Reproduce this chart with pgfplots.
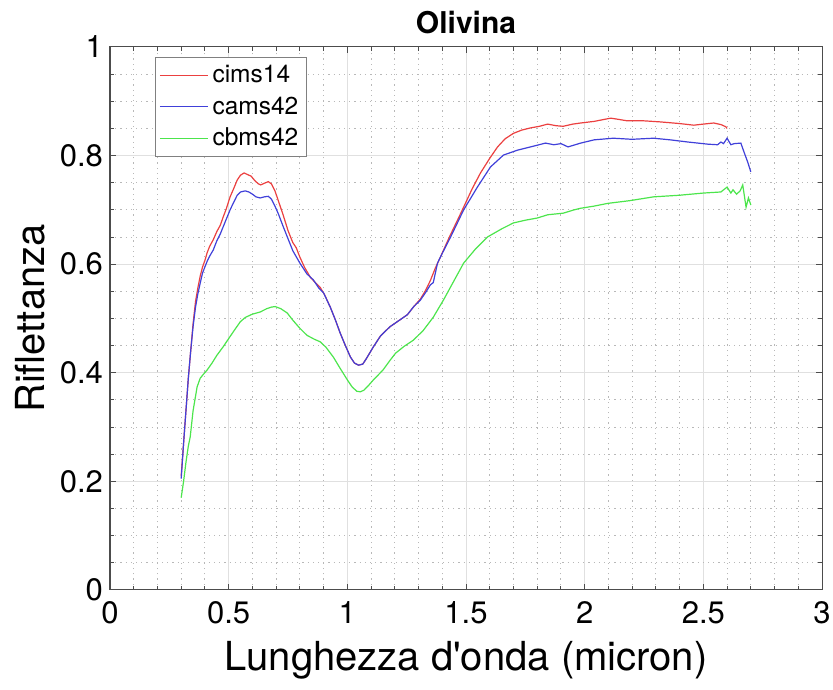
\documentclass[border=0pt]{standalone}
\usepackage{fontspec}
\setmainfont{TeX Gyre Heros}
\usepackage{pgfplots}
\pgfplotsset{compat=1.18}

\definecolor{cred}{rgb}{0.92,0.25,0.25}
\definecolor{cblue}{rgb}{0.25,0.25,0.85}
\definecolor{cgreen}{rgb}{0.30,0.90,0.30}

\begin{document}
\begin{tikzpicture}
\begin{axis}[
	scale only axis,
	width=356pt, height=271.5pt,
	xmin=0, xmax=3, ymin=0, ymax=1,
	xtick={0,0.5,...,3}, ytick={0,0.2,...,1},
	minor xtick={0,0.1,...,3}, minor ytick={0,0.05,...,1},
	grid=both,
	major grid style={black!12, line width=0.5pt},
	minor grid style={black!28, dash pattern=on 0.6pt off 2pt, line width=0.5pt},
	axis line style={black!70, line width=0.5pt},
	tick style={black!70, line width=0.5pt},
	major tick length=3pt, minor tick length=1.8pt,
	/pgf/number format/assume math mode=true,
	xticklabel style={/pgf/number format/fixed},
	yticklabel style={/pgf/number format/fixed, /pgf/number format/precision=1},
	tick label style={font=\fontsize{15.5}{18}\selectfont},
	xticklabel style={yshift=-2pt},
	xlabel={Lunghezza d\textquotesingle onda (micron)},
	ylabel={Riflettanza},
	label style={font=\fontsize{20}{24}\selectfont},
	xlabel style={at={(axis description cs:0.5,-0.13)}, anchor=center},
	ylabel style={at={(axis description cs:-0.112,0.5)}, anchor=center},
	title={\textbf{Olivina}},
	title style={font=\fontsize{15}{18}\selectfont, at={(axis description cs:0.5,1.046)}, anchor=center, yshift=-6pt},
	legend style={at={(axis description cs:0.063,0.982)}, anchor=north west,
		font=\fontsize{12.25}{14}\selectfont, draw=black!50, line width=0.5pt,
		inner sep=2pt, row sep=1.5pt},
	legend cell align=left,
	legend image code/.code={\draw[#1] (0pt,0pt) -- (24pt,0pt);},
	every axis plot/.append style={line width=0.6pt},
]
\addplot[cred] coordinates {
(0.300,0.210) (0.310,0.270) (0.320,0.330) (0.330,0.390) (0.340,0.440) (0.350,0.490)
(0.360,0.530) (0.370,0.556) (0.380,0.578) (0.390,0.595) (0.400,0.607) (0.410,0.622)
(0.420,0.633) (0.435,0.645) (0.450,0.660) (0.465,0.672) (0.477,0.687) (0.490,0.702)
(0.506,0.724) (0.520,0.738) (0.536,0.755) (0.550,0.764) (0.565,0.768) (0.580,0.765)
(0.595,0.762) (0.610,0.754) (0.625,0.748) (0.635,0.746) (0.650,0.749) (0.667,0.752)
(0.680,0.748) (0.695,0.735) (0.710,0.716) (0.730,0.690) (0.750,0.662) (0.770,0.640)
(0.785,0.630) (0.800,0.613) (0.820,0.594) (0.844,0.576) (0.865,0.566) (0.886,0.557)
(0.905,0.543) (0.928,0.521) (0.950,0.497) (0.970,0.473) (0.990,0.452) (1.013,0.429)
(1.030,0.418) (1.047,0.414) (1.065,0.416) (1.080,0.426) (1.110,0.448) (1.140,0.468)
(1.180,0.485) (1.220,0.497) (1.253,0.507) (1.280,0.522) (1.308,0.536) (1.330,0.552)
(1.350,0.570) (1.370,0.592) (1.392,0.613) (1.430,0.650) (1.464,0.681) (1.490,0.705)
(1.525,0.738) (1.561,0.768) (1.600,0.795) (1.633,0.816) (1.665,0.831) (1.700,0.841)
(1.735,0.847) (1.772,0.851) (1.810,0.854) (1.844,0.858) (1.880,0.855) (1.910,0.854)
(1.950,0.858) (1.983,0.860) (2.040,0.863) (2.110,0.869) (2.180,0.864) (2.250,0.864)
(2.320,0.862) (2.400,0.859) (2.460,0.856) (2.500,0.858) (2.544,0.860) (2.575,0.857)
(2.595,0.853) (2.600,0.850)
};
\addplot[cblue] coordinates {
(0.300,0.205) (0.310,0.270) (0.320,0.330) (0.330,0.390) (0.340,0.440) (0.350,0.485)
(0.360,0.520) (0.370,0.545) (0.380,0.565) (0.390,0.584) (0.400,0.595) (0.410,0.606)
(0.420,0.615) (0.435,0.626) (0.450,0.643) (0.465,0.656) (0.477,0.669) (0.490,0.683)
(0.506,0.700) (0.520,0.713) (0.536,0.727) (0.550,0.733) (0.570,0.735) (0.585,0.733)
(0.600,0.729) (0.615,0.724) (0.633,0.722) (0.650,0.724) (0.667,0.725) (0.680,0.720)
(0.695,0.707) (0.710,0.692) (0.730,0.669) (0.750,0.647) (0.770,0.625) (0.800,0.602)
(0.830,0.582) (0.857,0.571) (0.880,0.556) (0.900,0.547) (0.928,0.521) (0.950,0.497)
(0.970,0.473) (0.990,0.452) (1.013,0.429) (1.030,0.418) (1.047,0.414) (1.065,0.416)
(1.080,0.426) (1.110,0.448) (1.140,0.468) (1.180,0.485) (1.220,0.497) (1.253,0.507)
(1.280,0.522) (1.308,0.534) (1.330,0.548) (1.350,0.562) (1.362,0.566) (1.380,0.602)
(1.400,0.620) (1.435,0.650) (1.490,0.700) (1.548,0.742) (1.603,0.779) (1.658,0.801)
(1.717,0.810) (1.772,0.816) (1.835,0.823) (1.870,0.820) (1.900,0.822) (1.930,0.816)
(1.983,0.823) (2.040,0.829) (2.120,0.832) (2.200,0.830) (2.290,0.832) (2.360,0.829)
(2.435,0.825) (2.520,0.821) (2.560,0.820) (2.574,0.825) (2.585,0.822) (2.600,0.832)
(2.616,0.820) (2.630,0.822) (2.658,0.823) (2.671,0.807) (2.687,0.788) (2.700,0.770)
};
\addplot[cgreen] coordinates {
(0.300,0.170) (0.310,0.200) (0.320,0.235) (0.330,0.265) (0.338,0.282) (0.350,0.330)
(0.367,0.374) (0.380,0.390) (0.395,0.398) (0.409,0.405) (0.430,0.418) (0.450,0.432)
(0.477,0.448) (0.500,0.463) (0.525,0.479) (0.549,0.494) (0.570,0.502) (0.600,0.508)
(0.633,0.512) (0.660,0.518) (0.680,0.521) (0.696,0.522) (0.720,0.518) (0.747,0.510)
(0.770,0.497) (0.800,0.482) (0.830,0.469) (0.860,0.462) (0.886,0.457) (0.910,0.447)
(0.941,0.429) (0.970,0.408) (1.000,0.387) (1.020,0.374) (1.040,0.366) (1.055,0.365)
(1.070,0.368) (1.090,0.377) (1.110,0.387) (1.150,0.405) (1.180,0.423) (1.203,0.436)
(1.240,0.449) (1.278,0.460) (1.320,0.478) (1.363,0.503) (1.405,0.534) (1.435,0.558)
(1.490,0.602) (1.540,0.628) (1.590,0.650) (1.650,0.665) (1.700,0.676) (1.750,0.681)
(1.800,0.685) (1.844,0.691) (1.910,0.694) (1.955,0.700) (1.983,0.703) (2.040,0.707)
(2.097,0.712) (2.190,0.717) (2.290,0.724) (2.400,0.727) (2.500,0.731) (2.574,0.733)
(2.600,0.742) (2.616,0.731) (2.625,0.737) (2.640,0.729) (2.655,0.735) (2.666,0.746)
(2.680,0.705) (2.690,0.722) (2.700,0.709)
};
\legend{cims14,cams42,cbms42}
\end{axis}
\pgfresetboundingbox
\path[use as bounding box] ([shift={(-55pt,-49.5pt)}]current axis.south west)
	rectangle ([shift={(5.5pt,23.5pt)}]current axis.north east);
\end{tikzpicture}
\end{document}
